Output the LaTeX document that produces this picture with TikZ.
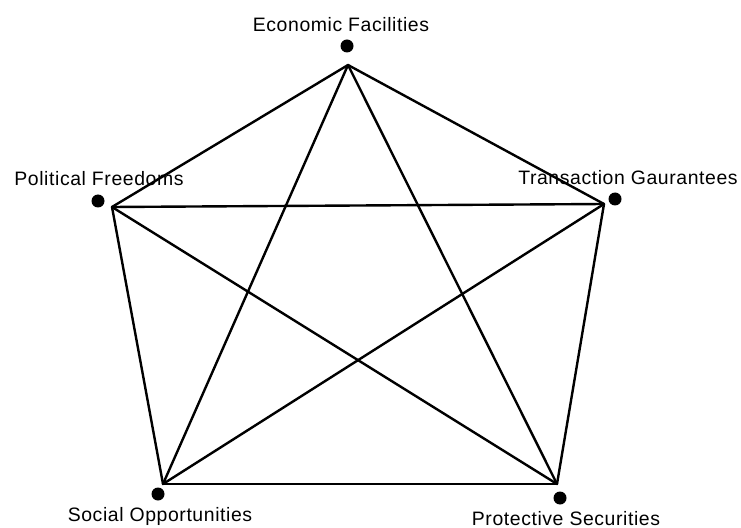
\documentclass[tikz,border=0pt]{standalone}
\usepackage{fontspec}
\setmainfont{Liberation Sans}[LetterSpace=3]
\begin{document}
\begin{tikzpicture}[x=1bp,y=-1bp,
  edge/.style={line width=2.4bp,line cap=round,line join=round},
  dot/.style={circle,fill=black,inner sep=0pt,minimum size=13bp},
  lbl/.style={anchor=base,inner sep=0pt,font=\fontsize{19.5}{22}\selectfont}]
\useasboundingbox (0,0) rectangle (741,528);
% corners of the pentagon
\coordinate (ef) at (348,65);
\coordinate (pf) at (112,207);
\coordinate (tg) at (604,204);
\coordinate (so) at (163,484);
\coordinate (ps) at (557,484);
% markers
\node[dot] (efd) at (347,46) {};
\node[dot] (pfd) at (98,201) {};
\node[dot] (tgd) at (615,199) {};
\node[dot] (sod) at (158,494) {};
\node[dot] (psd) at (560,498) {};
% labels
\node[lbl] (eft) at (341,32) {Economic Facilities};
\node[lbl] (pft) at (99,186) {Political Freedoms};
\node[lbl] (tgt) at (628,185) {Transaction Gaurantees};
\node[lbl] (sot) at (160,521) {Social Opportunities};
\node[lbl] (pst) at (566,525) {Protective Securities};
% every pair of corners joined
\draw[edge] (ef) -- (pf);
\draw[edge] (ef) -- (tg);
\draw[edge] (ef) -- (so);
\draw[edge] (ef) -- (ps);
\draw[edge] (pf) -- (tg);
\draw[edge] (pf) -- (so);
\draw[edge] (pf) -- (ps);
\draw[edge] (tg) -- (so);
\draw[edge] (tg) -- (ps);
\draw[edge] (so) -- (ps);
\end{tikzpicture}
\end{document}
